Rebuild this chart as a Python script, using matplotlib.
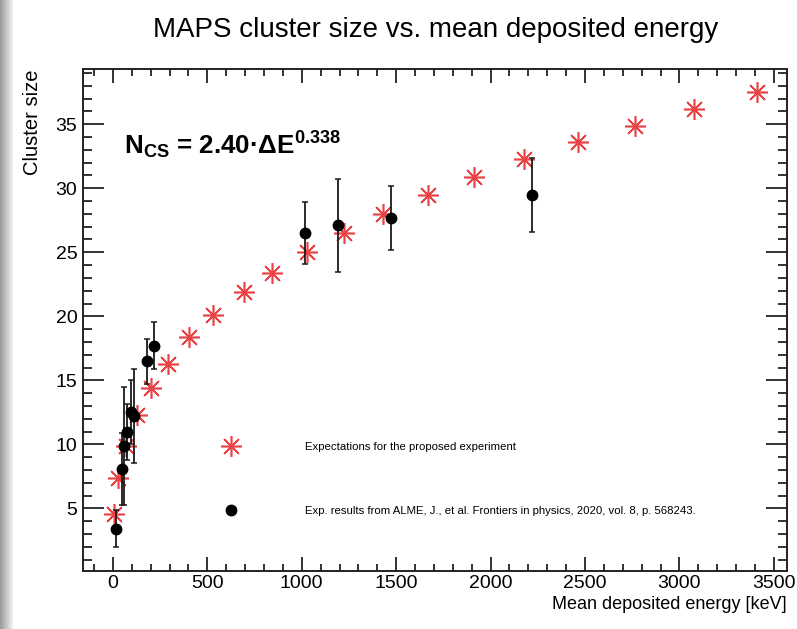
import numpy as np
import matplotlib
matplotlib.use("Agg")
import matplotlib.pyplot as plt
from matplotlib.lines import Line2D
from matplotlib.ticker import MultipleLocator

plt.rcParams['font.family'] = ['Liberation Sans', 'DejaVu Sans']
plt.rcParams['mathtext.fontset'] = 'custom'
plt.rcParams['mathtext.rm'] = 'Liberation Sans:bold'
plt.rcParams['mathtext.it'] = 'Liberation Sans:bold'
plt.rcParams['mathtext.bf'] = 'Liberation Sans:bold'
plt.rcParams['mathtext.default'] = 'bf'

# expectations (red stars)
exp_energy = [7, 26, 69, 127, 201, 291, 402, 529, 693, 842, 1027, 1223,
              1429, 1668, 1911, 2176, 2462, 2763, 3076, 3409]
exp_size = [4.6, 7.4, 9.9, 12.3, 14.4, 16.3, 18.4, 20.1, 21.9, 23.4, 25.0, 26.5,
            28.0, 29.5, 30.9, 32.3, 33.6, 34.9, 36.2, 37.5]

# ALME et al. measurements (black dots)
meas_energy = [16, 48, 58, 74, 95, 111, 180, 217, 1016, 1191, 1472, 2218]
meas_size = [3.4, 8.1, 9.85, 10.95, 12.5, 12.2, 16.5, 17.7, 26.5, 27.1, 27.7, 29.45]
meas_err = [1.45, 2.8, 4.6, 2.2, 2.5, 3.65, 1.75, 1.85, 2.45, 3.6, 2.5, 2.9]

title = "MAPS cluster size vs. mean deposited energy"
label_exp = "Expectations for the proposed experiment"
label_meas = "Exp. results from ALME, J., et al. Frontiers in physics, 2020, vol. 8, p. 568243."

fig = plt.figure(figsize=(7.97, 6.29), dpi=100)

# window shadow on the left edge
shade = fig.add_axes([0, 0, 0.016, 1])
shade.imshow(np.linspace(0.6, 0.95, 50)[None, :], cmap='gray', vmin=0, vmax=1,
             aspect='auto', extent=[0, 1, 0, 1])
shade.axis('off')

ax = fig.add_axes([0.104, 0.092, 0.883, 0.798])

red = '#ea4245'
stars, = ax.plot(exp_energy, exp_size, ls='none', marker=(8, 2, 0), ms=15,
                 mew=1.15, color=red, zorder=3)
ax.errorbar(meas_energy, meas_size, yerr=meas_err, fmt='o', color='black',
            ms=7.5, elinewidth=1.3, ecolor='#1a1a1a', capsize=2.5, capthick=1.1,
            zorder=4)

ax.set_xlim(-159, 3568)
ax.set_ylim(0.1, 39.3)

ax.xaxis.set_major_locator(MultipleLocator(500))
ax.xaxis.set_minor_locator(MultipleLocator(100))
ax.yaxis.set_major_locator(MultipleLocator(5))
ax.yaxis.set_minor_locator(MultipleLocator(1))
ax.tick_params(which='both', direction='in', top=True, right=True, width=1.3,
               color='#222222', labelsize=14)
ax.tick_params(axis='x', which='major', length=10, pad=3)
ax.tick_params(axis='x', which='minor', length=5)
ax.tick_params(axis='y', which='major', length=15, pad=4)
ax.tick_params(axis='y', which='minor', length=6.5)
for s in ax.spines.values():
    s.set_linewidth(1.4)
    s.set_color('#222222')

ax.set_xlabel("Mean deposited energy [keV]", fontsize=13, loc='right')
ax.xaxis.set_label_coords(1.0, -0.05)
ax.set_ylabel("Cluster size", fontsize=14.5, loc='top')
ax.yaxis.set_label_coords(-0.058, 1.0)

fig.text(0.546, 0.952, title, ha='center', va='center', fontsize=20)

ax.text(0.058, 0.83, "$N_{CS}$ = 2.40·ΔE$^{0.338}$", transform=ax.transAxes,
        fontsize=18.7, fontweight='bold', va='baseline')

dot_handle = Line2D([], [], ls='none', marker='o', color='black', ms=7.5)
ax.legend([stars, dot_handle], [label_exp, label_meas], loc='upper left',
          bbox_to_anchor=(0.194, 0.257), frameon=False, fontsize=8.2,
          borderpad=0, borderaxespad=0, handlelength=2, handletextpad=5.5,
          labelspacing=4.72)

fig.savefig("out.png", dpi=100)
